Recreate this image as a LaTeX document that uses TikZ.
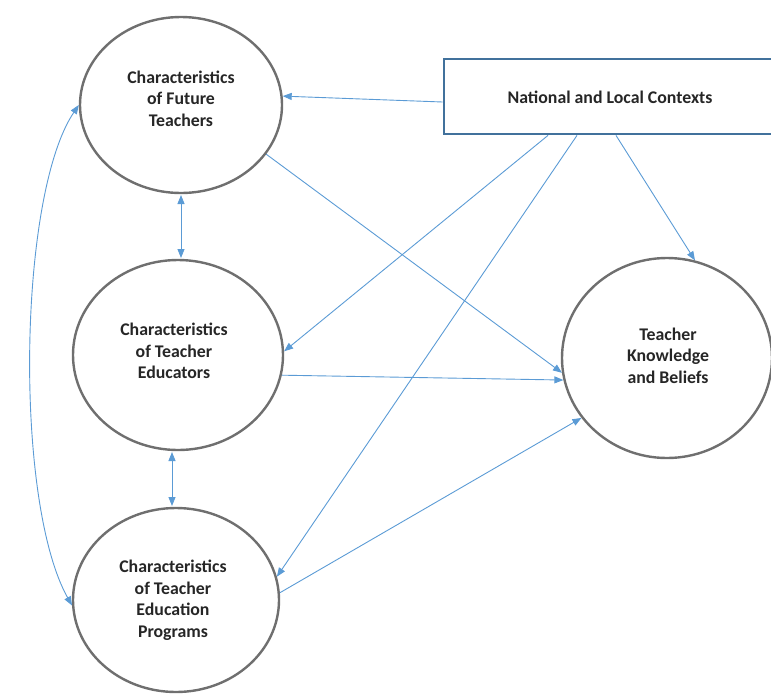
\documentclass[tikz,border=0pt]{standalone}
\usepackage{fontspec}
\setmainfont{Carlito}
\usetikzlibrary{shapes.geometric,arrows.meta}
\definecolor{arr}{HTML}{5B9BD5}
\definecolor{boxc}{HTML}{41719C}
\definecolor{ell}{HTML}{6F6F6F}
\definecolor{txt}{HTML}{262626}
\begin{document}
\begin{tikzpicture}[x=1pt,y=-1pt,
  circ/.style={ellipse,draw=ell,line width=2.4pt,inner sep=0pt},
  lbl/.style={align=center,font=\bfseries\fontsize{17.8}{21.5}\selectfont,text=txt},
  ctxbox/.style={rectangle,draw=boxc,line width=2.8pt,minimum width=332pt,minimum height=75pt},
  conn/.style={draw=arr,line width=0.9pt,-{Triangle[length=9pt,width=7pt]}},
  dconn/.style={draw=arr,line width=0.9pt,{Triangle[length=9pt,width=7pt]}-{Triangle[length=9pt,width=7pt]}}]
\useasboundingbox (0,0) rectangle (771,694);
\node[circ,minimum width=202pt,minimum height=176pt] (ft) at (181,105) {};
\node[circ,minimum width=210pt,minimum height=190pt] (me) at (178,355) {};
\node[circ,minimum width=206pt,minimum height=184pt] (be) at (176,600) {};
\node[circ,minimum width=210pt,minimum height=200pt] (rk) at (667,358) {};
\node[ctxbox] (ctx) at (610,96.5) {};
\node[lbl] (ftt) at (181,98.5) {Characteristics\\of Future\\Teachers};
\node[lbl] (met) at (174,351) {Characteristics\\of Teacher\\Educators};
\node[lbl] (bet) at (173,600) {Characteristics\\of Teacher\\Education\\Programs};
\node[lbl] (rkt) at (668,355.5) {Teacher\\Knowledge\\and Beliefs};
\node[lbl] (ctxt) at (610,97) {National and Local Contexts};
% connectors from context box
\draw[conn] ([yshift=-5.5pt]ctx.west) -- (ft.5);
\draw[conn] ([xshift=-62pt]ctx.south) -- (me.2);
\draw[conn] ([xshift=-33pt]ctx.south) -- (be.13);
\draw[conn] ([xshift=6pt]ctx.south) -- (rk.74);
% to knowledge
\draw[conn] (ft.-30) -- (rk.188);
\draw[conn] (me.-11) -- (rk.192);
\draw[conn] (be.4) -- (rk.215);
% double arrows
\coordinate (a1) at (181,195);
\coordinate (a2) at (181,258);
\draw[dconn] (a1) -- (a2);
\coordinate (b1) at (172,452);
\coordinate (b2) at (172,506);
\draw[dconn] (b1) -- (b2);
\draw[dconn] (ft.west) .. controls (18,195) and (14,502) .. (be.183);
\end{tikzpicture}
\end{document}
